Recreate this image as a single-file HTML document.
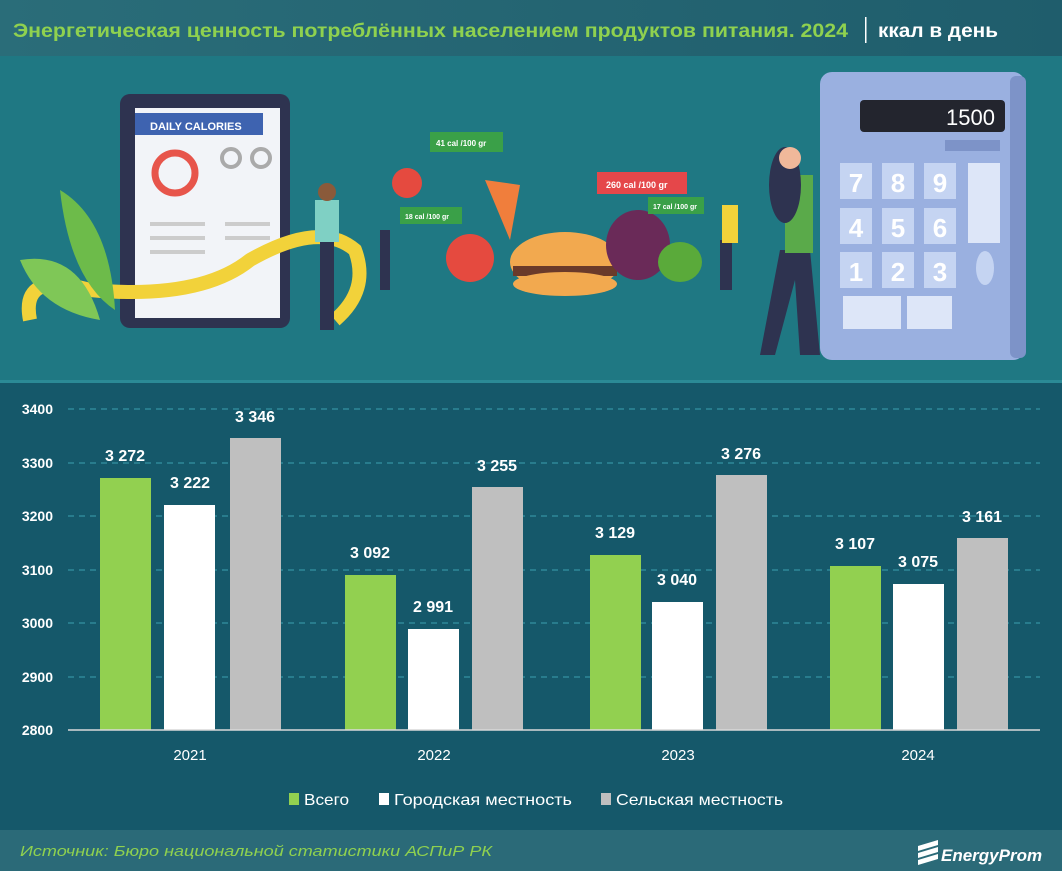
<!DOCTYPE html>
<html><head><meta charset="utf-8"><style>
body{margin:0;width:1062px;height:871px;overflow:hidden;background:#15586a;font-family:"Liberation Sans",sans-serif}
</style></head><body>
<svg width="1062" height="871" xmlns="http://www.w3.org/2000/svg" style="display:block">
<defs><linearGradient id="hd" x1="0" x2="1"><stop offset="0" stop-color="#2a6d79"/><stop offset="1" stop-color="#1f5d6c"/></linearGradient></defs>
<rect width="1062" height="56" fill="url(#hd)"/>
<text x="13" y="37" font-size="19" font-weight="bold" fill="#8fd14f" textLength="835" lengthAdjust="spacingAndGlyphs">Энергетическая ценность потреблённых населением продуктов питания. 2024</text>
<rect x="865" y="17" width="1.5" height="26" fill="#fff"/>
<text x="878" y="37" font-size="19" font-weight="bold" fill="#fff" textLength="120" lengthAdjust="spacingAndGlyphs">ккал в день</text>
<!-- illustration -->
<rect y="56" width="1062" height="326" fill="#1f7883"/>
<rect y="380" width="1062" height="3" fill="#2b8a96"/>
<rect x="120" y="94" width="170" height="234" rx="10" fill="#2e3350"/>
<rect x="135" y="108" width="145" height="210" fill="#f2f4f8"/>
<rect x="135" y="113" width="128" height="22" fill="#3e63b0"/>
<text x="150" y="130" font-size="11" font-weight="bold" fill="#fff">DAILY CALORIES</text>
<circle cx="175" cy="173" r="20" fill="none" stroke="#e7554b" stroke-width="7"/>
<circle cx="231" cy="158" r="9" fill="none" stroke="#aaa" stroke-width="4"/><circle cx="261" cy="158" r="9" fill="none" stroke="#aaa" stroke-width="4"/>
<rect x="150" y="222" width="55" height="4" fill="#ccc"/><rect x="150" y="236" width="55" height="4" fill="#ccc"/><rect x="150" y="250" width="55" height="4" fill="#ccc"/><rect x="225" y="222" width="45" height="4" fill="#ccc"/><rect x="225" y="236" width="45" height="4" fill="#ccc"/>
<path d="M30 320 Q20 270 90 290 Q200 300 250 260 Q320 220 355 250 Q370 290 335 320" fill="none" stroke="#f2d23a" stroke-width="14"/>
<path d="M60 190 Q110 220 115 310 Q70 280 60 190Z" fill="#6dbb4a"/>
<path d="M20 260 Q80 250 100 320 Q40 310 20 260Z" fill="#7fc757"/>
<rect x="320" y="240" width="14" height="90" fill="#2e3350"/><rect x="315" y="200" width="24" height="42" fill="#7fd0c4"/><circle cx="327" cy="192" r="9" fill="#8a5a3a"/>
<circle cx="470" cy="258" r="24" fill="#e54a3f"/><circle cx="407" cy="183" r="15" fill="#e54a3f"/>
<path d="M485 180 L520 185 L510 240 Z" fill="#f07e3c"/>
<ellipse cx="565" cy="262" rx="55" ry="30" fill="#f2a94f"/><rect x="513" y="266" width="104" height="10" fill="#6a3a2a"/><ellipse cx="565" cy="284" rx="52" ry="12" fill="#f2a94f"/>
<ellipse cx="638" cy="245" rx="32" ry="35" fill="#6a2a58"/><ellipse cx="680" cy="262" rx="22" ry="20" fill="#5aaa3a"/>
<rect x="430" y="132" width="73" height="20" fill="#3aa048"/><text x="436" y="146" font-size="8" font-weight="bold" fill="#fff">41 cal /100 gr</text>
<rect x="400" y="207" width="62" height="17" fill="#3aa048"/><text x="405" y="219" font-size="7" font-weight="bold" fill="#fff">18 cal /100 gr</text>
<rect x="597" y="172" width="90" height="22" fill="#e5474a"/><text x="606" y="188" font-size="9" font-weight="bold" fill="#fff">260 cal /100 gr</text>
<rect x="648" y="197" width="56" height="17" fill="#3aa048"/><text x="653" y="209" font-size="7" font-weight="bold" fill="#fff">17 cal /100 gr</text>
<rect x="380" y="230" width="10" height="60" fill="#2e3350"/><rect x="720" y="240" width="12" height="50" fill="#2e3350"/><rect x="722" y="205" width="16" height="38" fill="#f2d23a"/>
<path d="M780 250 L810 250 L820 355 L800 355 L795 280 L775 355 L760 355Z" fill="#2e3350"/>
<rect x="785" y="175" width="28" height="78" fill="#5aaa4a"/><ellipse cx="785" cy="185" rx="16" ry="38" fill="#2e3350"/><circle cx="790" cy="158" r="11" fill="#f0b89a"/>
<rect x="820" y="72" width="205" height="288" rx="12" fill="#9ab0e0"/><rect x="1010" y="76" width="16" height="282" rx="6" fill="#7d93c8"/>
<rect x="860" y="100" width="145" height="32" rx="4" fill="#23252e"/>
<text x="995" y="125" font-size="22" fill="#fff" text-anchor="end">1500</text>
<rect x="945" y="140" width="55" height="11" fill="#7d93c8"/>
<g font-size="26" font-weight="bold" fill="#fff" text-anchor="middle">
<rect x="840" y="163" width="32" height="36" fill="#c5d4f2"/><text x="856" y="192">7</text>
<rect x="882" y="163" width="32" height="36" fill="#c5d4f2"/><text x="898" y="192">8</text>
<rect x="924" y="163" width="32" height="36" fill="#c5d4f2"/><text x="940" y="192">9</text>
<rect x="840" y="208" width="32" height="36" fill="#c5d4f2"/><text x="856" y="237">4</text>
<rect x="882" y="208" width="32" height="36" fill="#c5d4f2"/><text x="898" y="237">5</text>
<rect x="924" y="208" width="32" height="36" fill="#c5d4f2"/><text x="940" y="237">6</text>
<rect x="840" y="252" width="32" height="36" fill="#c5d4f2"/><text x="856" y="281">1</text>
<rect x="882" y="252" width="32" height="36" fill="#c5d4f2"/><text x="898" y="281">2</text>
<rect x="924" y="252" width="32" height="36" fill="#c5d4f2"/><text x="940" y="281">3</text>
</g>
<rect x="968" y="163" width="32" height="80" fill="#dde6f8"/><ellipse cx="985" cy="268" rx="9" ry="17" fill="#c5d4f2"/>
<rect x="843" y="296" width="58" height="33" fill="#dde6f8"/><rect x="907" y="296" width="45" height="33" fill="#dde6f8"/>
<!-- chart -->
<g stroke="#3aa0b0" stroke-width="1" stroke-dasharray="6,5">
<line x1="68" x2="1040" y1="409" y2="409"/><line x1="68" x2="1040" y1="463" y2="463"/><line x1="68" x2="1040" y1="516" y2="516"/><line x1="68" x2="1040" y1="570" y2="570"/><line x1="68" x2="1040" y1="623" y2="623"/><line x1="68" x2="1040" y1="677" y2="677"/>
</g>
<g font-size="14" fill="#fff" font-weight="bold" text-anchor="end">
<text x="53" y="414">3400</text><text x="53" y="468">3300</text><text x="53" y="521">3200</text><text x="53" y="575">3100</text><text x="53" y="628">3000</text><text x="53" y="682">2900</text><text x="53" y="735">2800</text>
</g>
<g>
<rect x="100" y="478" width="51" height="252" fill="#92d050"/><rect x="164" y="505" width="51" height="225" fill="#fff"/><rect x="230" y="438" width="51" height="292" fill="#bfbfbf"/>
<rect x="345" y="575" width="51" height="155" fill="#92d050"/><rect x="408" y="629" width="51" height="101" fill="#fff"/><rect x="472" y="487" width="51" height="243" fill="#bfbfbf"/>
<rect x="590" y="555" width="51" height="175" fill="#92d050"/><rect x="652" y="602" width="51" height="128" fill="#fff"/><rect x="716" y="475" width="51" height="255" fill="#bfbfbf"/>
<rect x="830" y="566" width="51" height="164" fill="#92d050"/><rect x="893" y="584" width="51" height="146" fill="#fff"/><rect x="957" y="538" width="51" height="192" fill="#bfbfbf"/>
</g>
<line x1="68" x2="1040" y1="730" y2="730" stroke="#d9d9d9" stroke-width="1.5"/>
<g font-size="16" font-weight="bold" fill="#fff" text-anchor="middle">
<text x="125" y="461">3 272</text><text x="190" y="488">3 222</text><text x="255" y="422">3 346</text>
<text x="370" y="558">3 092</text><text x="433" y="612">2 991</text><text x="497" y="471">3 255</text>
<text x="615" y="538">3 129</text><text x="677" y="585">3 040</text><text x="741" y="459">3 276</text>
<text x="855" y="549">3 107</text><text x="918" y="567">3 075</text><text x="982" y="522">3 161</text>
</g>
<g font-size="15" fill="#fff" text-anchor="middle">
<text x="190" y="760">2021</text><text x="434" y="760">2022</text><text x="678" y="760">2023</text><text x="918" y="760">2024</text>
</g>
<g font-size="16" fill="#fff">
<rect x="289" y="793" width="10" height="12" fill="#92d050"/><text x="304" y="805" textLength="45" lengthAdjust="spacingAndGlyphs">Всего</text>
<rect x="379" y="793" width="10" height="12" fill="#fff"/><text x="394" y="805" textLength="178" lengthAdjust="spacingAndGlyphs">Городская местность</text>
<rect x="601" y="793" width="10" height="12" fill="#bfbfbf"/><text x="616" y="805" textLength="167" lengthAdjust="spacingAndGlyphs">Сельская местность</text>
</g>
<rect y="830" width="1062" height="41" fill="#2b6a78"/>
<text x="20" y="856" font-size="15" font-style="italic" fill="#8fd14f" textLength="472" lengthAdjust="spacingAndGlyphs">Источник: Бюро национальной статистики АСПиР РК</text>
<path d="M918 846 l20 -6 v5 l-20 6z M918 853 l20 -6 v5 l-20 6z M918 860 l20 -6 v5 l-20 6z" fill="#fff"/>
<text x="941" y="861" font-size="17" font-weight="bold" font-style="italic" fill="#fff">EnergyProm</text>
</svg>
</body></html>
